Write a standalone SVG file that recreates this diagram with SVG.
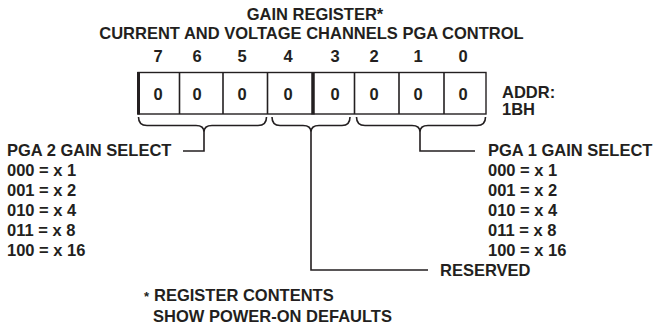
<svg xmlns="http://www.w3.org/2000/svg" width="655" height="327" viewBox="0 0 655 327">
<style>
text{font-family:"Liberation Sans",Arial,sans-serif;font-weight:bold;font-size:16.5px;fill:#231f20}
.c{text-anchor:middle}
.ln{fill:none;stroke:#231f20;stroke-width:1.6}
.cell{fill:#fff;stroke:#231f20;stroke-width:1.4}
</style>
<rect width="655" height="327" fill="#fff"/>
<g id="title">
<text class="c" x="315" y="20">GAIN REGISTER*</text>
<text class="c" x="311.5" y="39">CURRENT AND VOLTAGE CHANNELS PGA CONTROL</text>
</g>
<g id="bits">
<text class="c" x="158" y="62">7</text>
<text class="c" x="197" y="62">6</text>
<text class="c" x="242" y="62">5</text>
<text class="c" x="288" y="62">4</text>
<text class="c" x="335" y="62">3</text>
<text class="c" x="374" y="62">2</text>
<text class="c" x="418" y="62">1</text>
<text class="c" x="463" y="62">0</text>
</g>
<g id="register">
<rect class="cell" x="138" y="72.5" width="348" height="41.5"/>
<line class="ln" x1="179.5" y1="72.5" x2="179.5" y2="114"/>
<line class="ln" x1="223" y1="72.5" x2="223" y2="114"/>
<line class="ln" x1="267.5" y1="72.5" x2="267.5" y2="114"/>
<line class="ln" x1="354.5" y1="72.5" x2="354.5" y2="114"/>
<line class="ln" x1="399" y1="72.5" x2="399" y2="114"/>
<line class="ln" x1="444" y1="72.5" x2="444" y2="114"/>
<line stroke="#231f20" stroke-width="3" x1="138.5" y1="72" x2="138.5" y2="114.5"/>
<line stroke="#231f20" stroke-width="3.5" x1="313" y1="72" x2="313" y2="114.5"/>
<text class="c" x="158" y="100">0</text>
<text class="c" x="197" y="100">0</text>
<text class="c" x="242" y="100">0</text>
<text class="c" x="288" y="100">0</text>
<text class="c" x="335" y="100">0</text>
<text class="c" x="374" y="100">0</text>
<text class="c" x="418" y="100">0</text>
<text class="c" x="463" y="100">0</text>
</g>
<g id="addr">
<text x="502" y="98">ADDR:</text>
<text x="502" y="115">1BH</text>
</g>
<g id="connectors">
<path class="ln" d="M138.5,117 Q138.5,125.5 147,125.5 L196,125.5 Q204,125.5 204,132 Q204,125.5 212,125.5 L258,125.5 Q266.5,125.5 266.5,117"/>
<path class="ln" d="M272,117 Q272,125.5 280,125.5 L303,125.5 Q311,125.5 311,132 Q311,125.5 319,125.5 L342,125.5 Q350,125.5 350,117"/>
<path class="ln" d="M356.5,117 Q356.5,125.5 365,125.5 L412,125.5 Q420,125.5 420,132 Q420,125.5 428,125.5 L477,125.5 Q485.5,125.5 485.5,117"/>
<polyline class="ln" points="204,132 204,151 183,151"/>
<polyline class="ln" points="311,132 311,270 428,270"/>
<polyline class="ln" points="420,132 420,151 475,151"/>
</g>
<g id="pga2">
<text x="7" y="156">PGA 2 GAIN SELECT</text>
<text x="7" y="176">000 = x 1</text>
<text x="7" y="196">001 = x 2</text>
<text x="7" y="216">010 = x 4</text>
<text x="7" y="236">011 = x 8</text>
<text x="7" y="256">100 = x 16</text>
</g>
<g id="pga1">
<text x="488" y="156">PGA 1 GAIN SELECT</text>
<text x="488" y="176">000 = x 1</text>
<text x="488" y="196">001 = x 2</text>
<text x="488" y="216">010 = x 4</text>
<text x="488" y="236">011 = x 8</text>
<text x="488" y="256">100 = x 16</text>
</g>
<g id="reserved">
<text x="440" y="276">RESERVED</text>
</g>
<g id="footnote">
<text x="144" y="301"><tspan font-size="13">*</tspan><tspan x="154">REGISTER CONTENTS</tspan></text>
<text x="153" y="322">SHOW POWER-ON DEFAULTS</text>
</g>
</svg>
